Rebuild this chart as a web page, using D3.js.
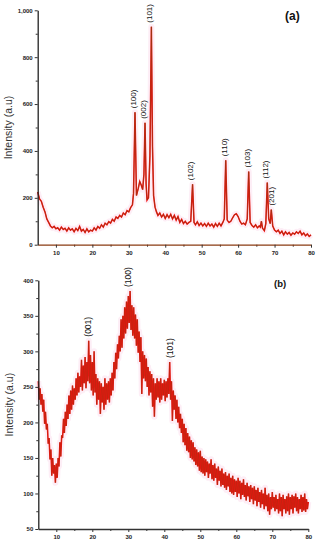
<!DOCTYPE html>
<html>
<head>
<meta charset="utf-8">
<script src="https://cdn.jsdelivr.net/npm/d3@7"></script>
<style>
  body { margin: 0; background: #fff; }
  svg text { font-family: "Liberation Sans", Arial, sans-serif; }
  .tick text { font-size: 6px; font-weight: bold; fill: #222; }
</style>
</head>
<body>
<div class="chart"></div>
<script>
// Panel (a): 2-theta (deg) and intensity pairs
const scanA = [
  [5,225],[5.5,195],[6,185],[6.5,160],[7,140],[7.5,110],[8,95],[8.5,80],[9,72],[9.5,78],
  [10,68],[10.5,72],[11,62],[11.5,75],[12,65],[12.5,70],[13,58],[13.5,72],[14,62],[14.5,68],
  [15,55],[15.5,70],[16,60],[16.5,78],[17,58],[17.5,65],[18,52],[18.5,68],[19,55],[19.5,62],
  [20,58],[20.5,72],[21,62],[21.5,78],[22,70],[22.5,85],[23,75],[23.5,92],[24,85],[24.5,98],
  [25,92],[25.5,108],[26,100],[26.5,118],[27,112],[27.5,125],[28,118],[28.5,135],[29,128],[29.5,145],
  [30,140],[30.5,158],[31,170],[31.3,220],[31.7,565],[32.1,210],[32.6,240],[33,270],[33.4,255],[33.8,235],
  [34.15,300],[34.45,520],[34.75,260],[35,190],[35.4,200],[35.8,380],[36.2,930],[36.5,420],[36.8,210],[37.2,160],
  [37.6,140],[38,125],[38.5,135],[39,118],[39.5,130],[40,112],[40.5,128],[41,115],[41.5,130],[42,110],
  [42.5,125],[43,105],[43.5,120],[44,95],[44.5,108],[45,90],[45.5,100],[46,88],[46.5,95],[47,100],
  [47.5,258],[47.9,95],[48.3,85],[48.8,98],[49.3,82],[49.8,92],[50.3,80],[50.8,90],[51.3,78],[51.8,92],
  [52.3,80],[52.8,88],[53.3,75],[53.8,90],[54.3,78],[54.8,92],[55.3,80],[55.8,95],[56.2,110],[56.6,360],
  [57,105],[57.5,95],[58,100],[58.5,115],[59,128],[59.5,132],[60,120],[60.5,100],[61,88],[61.5,92],
  [62,85],[62.5,110],[62.9,312],[63.3,95],[63.8,82],[64.3,75],[64.8,85],[65.3,72],[65.8,80],[66.1,75],
  [66.4,100],[66.7,70],[67.2,60],[67.6,90],[68,265],[68.4,110],[68.8,90],[69.1,150],[69.5,80],[70,62],
  [70.5,55],[71,62],[71.5,48],[72,58],[72.5,42],[73,55],[73.5,45],[74,52],[74.5,40],[75,50],
  [75.5,45],[76,55],[76.5,48],[77,58],[77.5,42],[78,50],[78.5,38],[79,46],[79.5,35],[80,42]
];
const peaksA = [
  {label: '(100)', angle: 31.7, at: 565},
  {label: '(002)', angle: 34.45, at: 520},
  {label: '(101)', angle: 36.2, at: 930},
  {label: '(102)', angle: 47.5, at: 258},
  {label: '(110)', angle: 56.6, at: 360},
  {label: '(103)', angle: 62.9, at: 312},
  {label: '(112)', angle: 68.0, at: 265},
  {label: '(201)', angle: 69.6, at: 150}
];

// Panel (b)
const scanB = [
  [5,258],[5.25,232],[5.5,248],[5.75,225],[6,240],[6.25,215],[6.5,232],[6.75,198],[7,215],[7.25,190],
  [7.5,198],[7.75,170],[8,178],[8.25,148],[8.5,162],[8.75,125],[9,150],[9.25,128],[9.5,140],[9.75,115],
  [10,142],[10.25,122],[10.5,150],[10.75,138],[11,172],[11.25,152],[11.5,182],[11.75,178],[12,205],[12.25,185],
  [12.5,215],[12.75,195],[13,225],[13.25,205],[13.5,238],[13.75,212],[14,245],[14.25,218],[14.5,252],[14.75,225],
  [15,248],[15.25,232],[15.5,262],[15.75,238],[16,270],[16.25,242],[16.5,265],[16.75,250],[17,288],[17.25,245],
  [17.5,280],[17.75,255],[18,292],[18.25,248],[18.5,285],[18.75,258],[19,315],[19.25,255],[19.5,295],[19.75,245],
  [20,285],[20.25,238],[20.5,300],[20.75,242],[21,268],[21.25,225],[21.5,262],[21.75,232],[22,258],[22.25,212],
  [22.5,255],[22.75,228],[23,250],[23.25,218],[23.5,262],[23.75,225],[24,255],[24.25,232],[24.5,258],[24.75,228],
  [25,262],[25.25,238],[25.5,270],[25.75,245],[26,285],[26.25,262],[26.5,298],[26.75,275],[27,310],[27.25,290],
  [27.5,322],[27.75,300],[28,345],[28.25,305],[28.5,350],[28.75,318],[29,362],[29.25,325],[29.5,370],[29.75,332],
  [30,378],[30.25,340],[30.5,385],[30.75,330],[31,365],[31.25,322],[31.5,362],[31.75,318],[32,352],[32.25,308],
  [32.5,345],[32.75,298],[33,328],[33.25,285],[33.5,320],[33.75,240],[34,300],[34.25,262],[34.5,295],[34.75,258],
  [35,290],[35.25,250],[35.5,278],[35.75,238],[36,272],[36.25,242],[36.5,268],[36.75,222],[37,262],[37.25,208],
  [37.5,255],[37.75,232],[38,262],[38.25,235],[38.5,258],[38.75,228],[39,262],[39.25,232],[39.5,255],[39.75,238],
  [40,260],[40.25,230],[40.5,258],[40.75,235],[41,262],[41.25,240],[41.5,285],[41.75,232],[42,258],[42.25,202],
  [42.5,245],[42.75,218],[43,238],[43.25,205],[43.5,232],[43.75,200],[44,222],[44.25,192],[44.5,212],[44.75,185],
  [45,205],[45.25,172],[45.5,198],[45.75,168],[46,192],[46.25,160],[46.5,185],[46.75,158],[47,180],[47.25,150],
  [47.5,175],[47.75,148],[48,172],[48.25,145],[48.5,165],[48.75,140],[49,162],[49.25,138],[49.5,158],[49.75,132],
  [50,160],[50.25,130],[50.5,152],[50.75,128],[51,150],[51.25,125],[51.5,148],[51.75,130],[52,145],[52.25,122],
  [52.5,142],[52.75,128],[53,148],[53.25,120],[53.5,140],[53.75,118],[54,142],[54.25,122],[54.5,135],[54.75,112],
  [55,138],[55.25,118],[55.5,132],[55.75,110],[56,135],[56.25,112],[56.5,128],[56.75,108],[57,130],[57.25,105],
  [57.5,125],[57.75,110],[58,128],[58.25,102],[58.5,122],[58.75,100],[59,125],[59.25,98],[59.5,120],[59.75,102],
  [60,118],[60.25,95],[60.5,122],[60.75,100],[61,118],[61.25,92],[61.5,115],[61.75,98],[62,120],[62.25,95],
  [62.5,112],[62.75,90],[63,115],[63.25,96],[63.5,110],[63.75,88],[64,112],[64.25,92],[64.5,108],[64.75,85],
  [65,110],[65.25,90],[65.5,105],[65.75,82],[66,108],[66.25,88],[66.5,102],[66.75,80],[67,105],[67.25,85],
  [67.5,100],[67.75,78],[68,108],[68.25,82],[68.5,98],[68.75,75],[69,100],[69.25,70],[69.5,95],[69.75,78],
  [70,102],[70.25,80],[70.5,95],[70.75,75],[71,98],[71.25,78],[71.5,92],[71.75,72],[72,100],[72.25,75],
  [72.5,95],[72.75,68],[73,98],[73.25,78],[73.5,92],[73.75,72],[74,96],[74.25,75],[74.5,100],[74.75,70],
  [75,95],[75.25,78],[75.5,98],[75.75,72],[76,96],[76.25,80],[76.5,100],[76.75,75],[77,95],[77.25,72],
  [77.5,92],[77.75,78],[78,98],[78.25,74],[78.5,95],[78.75,76],[79,100],[79.25,74],[79.5,92],[79.75,78],[80,88]
];
const peaksB = [
  {label: '(001)', angle: 19.3, at: 315},
  {label: '(100)', angle: 30.5, at: 385},
  {label: '(101)', angle: 42.0, at: 285}
];

const xTicks = [10, 20, 30, 40, 50, 60, 70, 80];
const yTicksA = [0, 200, 400, 600, 800, 1000];
const yTicksB = [50, 100, 150, 200, 250, 300, 350, 400];

const width = 320;
const height = 550;

const svg = d3.select('.chart')
  .append('svg')
  .attr('width', width)
  .attr('height', height);

function drawPanel(cfg) {
  const x = d3.scaleLinear().domain([5, 80]).range([cfg.left, cfg.right]);
  const y = d3.scaleLinear().domain(cfg.yDomain).range([cfg.bottom, cfg.top]);
  const g = svg.append('g');

  const line = d3.line().x(d => x(d[0])).y(d => y(d[1]));

  // faint pink halo like the scan
  g.append('path').datum(cfg.data)
    .attr('d', line).attr('fill', 'none')
    .attr('stroke', '#fdeef6').attr('stroke-width', 6).attr('stroke-linejoin', 'round');
  g.append('path').datum(cfg.data)
    .attr('d', line).attr('fill', 'none')
    .attr('stroke', '#f81010').attr('stroke-width', 1.5);
  g.append('path').datum(cfg.data)
    .attr('d', line).attr('fill', 'none')
    .attr('stroke', '#8a3b12').attr('stroke-width', cfg.brown);

  // minor ticks
  const xMinor = d3.axisBottom(x).tickValues([15, 25, 35, 45, 55, 65, 75]).tickSize(2).tickFormat('');
  const step = cfg.yTicks[1] - cfg.yTicks[0];
  const yMinor = d3.axisLeft(y)
    .tickValues(cfg.yTicks.slice(0, -1).map(v => v + step / 2)).tickSize(2).tickFormat('');

  g.append('g').attr('transform', `translate(0,${cfg.bottom})`).call(xMinor)
    .call(a => a.select('.domain').remove())
    .selectAll('line').attr('stroke', '#333');
  g.append('g').attr('transform', `translate(${cfg.left},0)`).call(yMinor)
    .call(a => a.select('.domain').remove())
    .selectAll('line').attr('stroke', '#333');

  const xAxis = g.append('g')
    .attr('transform', `translate(0,${cfg.bottom})`)
    .call(d3.axisBottom(x).tickValues(xTicks).tickSize(3).tickSizeOuter(0).tickPadding(3));
  xAxis.select('.domain').attr('stroke', cfg.xAxisColor).attr('stroke-width', 1.3);
  xAxis.selectAll('.tick line').attr('stroke', '#333');

  const yAxis = g.append('g')
    .attr('transform', `translate(${cfg.left},0)`)
    .call(d3.axisLeft(y).tickValues(cfg.yTicks).tickSize(3).tickSizeOuter(0).tickPadding(2));
  yAxis.select('.domain').attr('stroke', '#222').attr('stroke-width', 1.3);
  yAxis.selectAll('.tick line').attr('stroke', '#333');

  g.append('text')
    .attr('transform', `translate(${cfg.titleX},${(cfg.top + cfg.bottom) / 2}) rotate(-90)`)
    .attr('text-anchor', 'middle')
    .attr('font-size', 10.5)
    .attr('fill', '#333')
    .text('Intensity (a.u)');

  g.append('text')
    .attr('x', cfg.tagX).attr('y', cfg.tagY)
    .attr('font-size', cfg.tagSize).attr('font-weight', 'bold')
    .attr('fill', '#111')
    .text(cfg.tag);

  // rotated peak labels, sitting just left of and above each peak
  g.selectAll('text.peak')
    .data(cfg.peaks)
    .enter()
    .append('text')
    .attr('class', 'peak')
    .attr('transform', d =>
      `translate(${x(d.angle) + cfg.peakSize * 0.36 - 2},${y(d.at) - 4}) rotate(-90)`)
    .attr('font-size', cfg.peakSize)
    .attr('fill', '#111')
    .text(d => d.label);
}

drawPanel({
  data: scanA, peaks: peaksA, yDomain: [0, 1000], yTicks: yTicksA,
  left: 37.7, right: 311, top: 10.3, bottom: 244.7, xAxisColor: '#8a3b12',
  titleX: 12, tag: '(a)', tagX: 285, tagY: 20, tagSize: 12, peakSize: 8, brown: 0.6
});

drawPanel({
  data: scanB, peaks: peaksB, yDomain: [50, 400], yTicks: yTicksB,
  left: 38.3, right: 308.3, top: 280.3, bottom: 529, xAxisColor: '#333',
  titleX: 13, tag: '(b)', tagX: 274, tagY: 287, tagSize: 9.5, peakSize: 8.5, brown: 0.35
});
</script>
</body>
</html>
